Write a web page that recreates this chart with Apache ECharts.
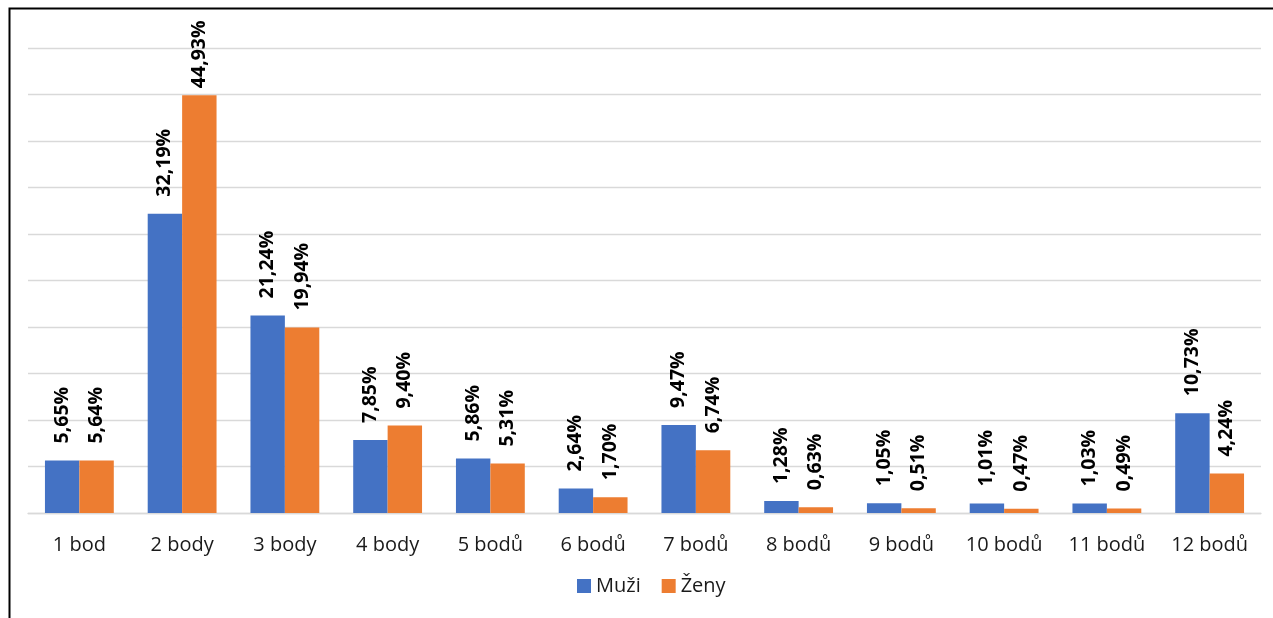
<!DOCTYPE html>
<html>
<head>
<meta charset="utf-8">
<title>Body</title>
<script src="https://cdn.jsdelivr.net/npm/echarts@6/dist/echarts.min.js"></script>
<style>
  html, body { margin: 0; padding: 0; background: #fff; }
  #chart { width: 1273px; height: 618px; }
</style>
</head>
<body>
<div id="chart"></div>
<script>
// Categories (number of points) and the share of each group in percent
const categories = ['1 bod', '2 body', '3 body', '4 body', '5 bodů', '6 bodů',
                    '7 bodů', '8 bodů', '9 bodů', '10 bodů', '11 bodů', '12 bodů'];
const muzi = [5.65, 32.19, 21.24, 7.85, 5.86, 2.64, 9.47, 1.28, 1.05, 1.01, 1.03, 10.73];
const zeny = [5.64, 44.93, 19.94, 9.40, 5.31, 1.70, 6.74, 0.63, 0.51, 0.47, 0.49, 4.24];
const seriesNames = ['Muži', 'Ženy'];
const colors = ['#4472C4', '#ED7D31'];

const FONT = '"Open Sans", "Noto Sans", sans-serif';
const AXIS_MAX = 50;

function fmt(v) {
  return v.toFixed(2).replace('.', ',') + '%';
}

// Labels that would run past the top of the plot are pulled closer to the bar
function buildData(values) {
  return values.map(v => {
    const item = { value: v };
    if (v > AXIS_MAX * 0.8) item.label = { distance: 7 };
    return item;
  });
}

function barSeries(name, values, color) {
  return {
    name: name,
    type: 'bar',
    data: buildData(values),
    barGap: '0%',
    barCategoryGap: '33%',
    itemStyle: { color: color },
    label: {
      show: true,
      position: 'top',
      distance: 17,
      rotate: 90,
      align: 'left',
      verticalAlign: 'middle',
      fontFamily: FONT,
      fontWeight: 'bold',
      fontSize: 19.5,
      color: '#000',
      formatter: p => fmt(p.value)
    }
  };
}

const chart = echarts.init(document.getElementById('chart'), null, { renderer: 'canvas' });
chart.setOption({
  animation: false,
  backgroundColor: '#fff',
  textStyle: { fontFamily: FONT },
  grid: { left: 28, right: 12, top: 48, bottom: 105, containLabel: false },
  legend: {
    data: seriesNames,
    left: 577,
    top: 576,
    padding: 0,
    itemWidth: 14,
    itemHeight: 14,
    itemGap: 21,
    icon: 'rect',
    textStyle: { fontFamily: FONT, fontSize: 20, color: '#1a1a1a' }
  },
  xAxis: {
    type: 'category',
    data: categories,
    axisLine: { lineStyle: { color: '#d9d9d9', width: 1.3 } },
    axisTick: { show: false },
    axisLabel: { fontFamily: FONT, fontSize: 20, color: '#1a1a1a', margin: 22 }
  },
  yAxis: {
    type: 'value',
    min: 0,
    max: AXIS_MAX,
    interval: 5,
    axisLabel: { show: false },
    axisLine: { show: false },
    axisTick: { show: false },
    splitLine: { lineStyle: { color: '#d9d9d9', width: 1.3 } }
  },
  series: [
    barSeries(seriesNames[0], muzi, colors[0]),
    barSeries(seriesNames[1], zeny, colors[1])
  ],
  graphic: [{
    type: 'rect',
    silent: true,
    shape: { x: 9.5, y: 8.5, width: 1400, height: 800 },
    style: { fill: 'none', stroke: '#000', lineWidth: 2 }
  }]
});
</script>
</body>
</html>
